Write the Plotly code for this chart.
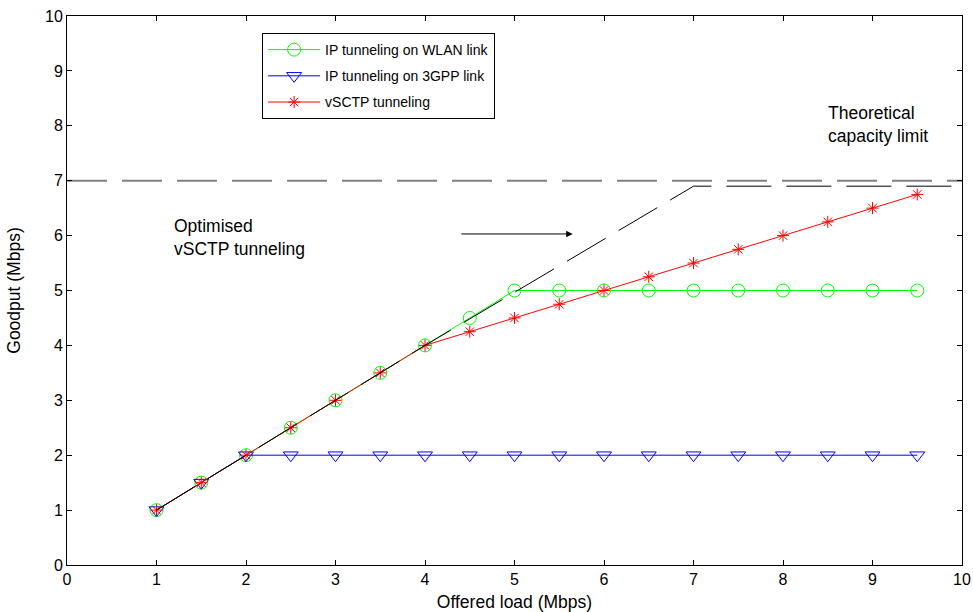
import plotly.graph_objects as go

# Data
offered_load = [1, 1.5, 2, 2.5, 3, 3.5, 4, 4.5, 5, 5.5, 6, 6.5, 7, 7.5, 8, 8.5, 9, 9.5]
wlan_goodput = [1, 1.5, 2, 2.5, 3, 3.5, 4, 4.5, 5, 5, 5, 5, 5, 5, 5, 5, 5, 5]
gpp_goodput = [1, 1.5, 2, 2, 2, 2, 2, 2, 2, 2, 2, 2, 2, 2, 2, 2, 2, 2]
vsctp_goodput = [1, 1.5, 2, 2.5, 3, 3.5, 4, 4.25, 4.5, 4.75, 5, 5.25, 5.5, 5.75, 6, 6.25, 6.5, 6.75]

optimised_x = [1, 2, 3, 4, 7, 10]
optimised_y = [1, 2, 3, 4, 6.9, 6.9]

capacity_x = [0, 10]
capacity_y = [7, 7]

x_ticks = list(range(0, 11))
y_ticks = list(range(0, 11))

FONT = "Liberation Sans, Arial, sans-serif"

fig = go.Figure()

fig.add_trace(go.Scatter(x=capacity_x, y=capacity_y, mode="lines",
                         line=dict(color="#808080", width=2, dash="40px,15px"),
                         showlegend=False, hoverinfo="skip"))

fig.add_trace(go.Scatter(x=offered_load, y=wlan_goodput, mode="lines+markers",
                         name="IP tunneling on WLAN link", legendgroup="g1",
                         line=dict(color="#00ff00", width=1),
                         marker=dict(symbol="circle-open", size=13, color="#00ff00",
                                     line=dict(width=1))))
fig.add_trace(go.Scatter(x=offered_load, y=gpp_goodput, mode="lines+markers",
                         name="IP tunneling on 3GPP link", legendgroup="g2",
                         line=dict(color="#0000ff", width=1),
                         marker=dict(symbol="triangle-down-open", size=13, color="#0000ff",
                                     line=dict(width=1))))
fig.add_trace(go.Scatter(x=offered_load, y=vsctp_goodput, mode="lines+markers",
                         name="vSCTP tunneling", legendgroup="g3",
                         line=dict(color="#ff0000", width=1),
                         marker=dict(symbol="asterisk-open", size=10, color="#ff0000",
                                     line=dict(width=1, color="#ff0000"))))

fig.add_trace(go.Scatter(x=optimised_x, y=optimised_y, mode="lines",
                         line=dict(color="black", width=1, dash="45px,15px"),
                         showlegend=False, hoverinfo="skip"))

fig.add_annotation(x=1.17, y=5.97, text="Optimised<br>vSCTP tunneling", showarrow=False,
                   xanchor="left", yanchor="middle", align="left",
                   font=dict(family=FONT, size=17.5, color="black"))
fig.add_annotation(x=8.48, y=8.02, text="Theoretical<br>capacity limit", showarrow=False,
                   xanchor="left", yanchor="middle", align="left",
                   font=dict(family=FONT, size=17.5, color="black"))
fig.add_annotation(x=5.65, y=6.03, ax=4.39, ay=6.03, xref="x", yref="y", axref="x", ayref="y",
                   text="", showarrow=True, arrowhead=2, arrowsize=1.3, arrowwidth=1,
                   arrowcolor="black")

axis_common = dict(showline=True, linecolor="black", linewidth=1, mirror="ticks",
                   ticks="inside", ticklen=5, tickcolor="black", showgrid=False,
                   zeroline=False, automargin=False,
                   tickfont=dict(family=FONT, size=16, color="black"))

fig.update_xaxes(range=[0, 10], tickvals=x_ticks, ticktext=[str(v) for v in x_ticks],
                 title=dict(text="Offered load (Mbps)", standoff=8,
                            font=dict(family=FONT, size=17.5, color="black")),
                 **axis_common)
fig.update_yaxes(range=[0, 10], tickvals=y_ticks, ticktext=[str(v) for v in y_ticks],
                 title=dict(text="Goodput (Mbps)", standoff=19,
                            font=dict(family=FONT, size=17.5, color="black")),
                 **axis_common)

fig.update_layout(
    width=973, height=612,
    margin=dict(l=67, r=11, t=16, b=47),
    paper_bgcolor="white", plot_bgcolor="white",
    font=dict(family=FONT, color="black"),
    legend=dict(x=0.218, y=0.969, xanchor="left", yanchor="top",
                bgcolor="white", bordercolor="black", borderwidth=1,
                font=dict(family=FONT, size=14, color="black"),
                itemwidth=52, tracegroupgap=5, traceorder="grouped"),
)

fig.write_html("out.html", config={"displayModeBar": False},
               post_script="document.body.style.margin='0';document.body.style.overflow='hidden';")
